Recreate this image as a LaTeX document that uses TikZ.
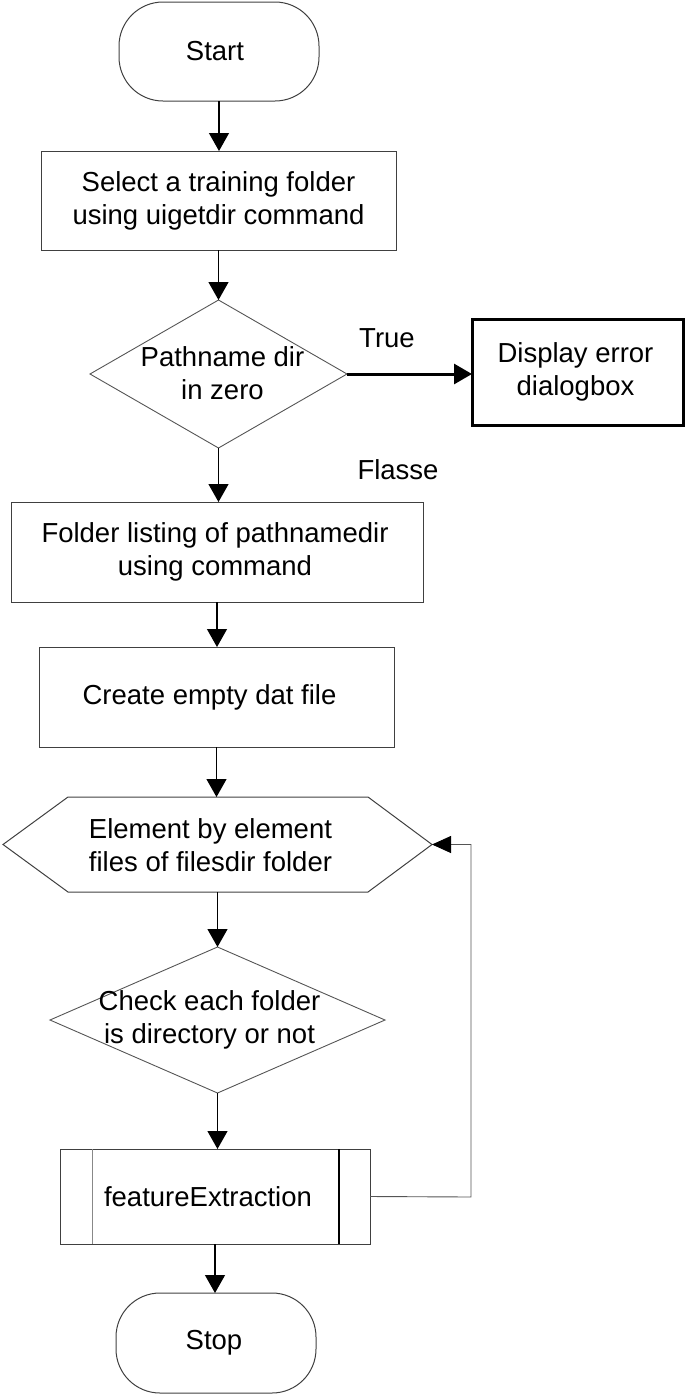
\documentclass[tikz,border=0pt]{standalone}
\usepackage{fontspec}
\setmainfont{Liberation Sans}
\usetikzlibrary{shapes.geometric,arrows.meta}
\definecolor{edgegray}{HTML}{404040}
\definecolor{thingray}{HTML}{555555}
\begin{document}
\begin{tikzpicture}[x=1pt,y=-1pt,
  every node/.style={inner sep=0pt, outer sep=0pt},
  txt/.style={font=\fontsize{27.5}{33}\selectfont, align=center, text=black},
  termbox/.style={draw=edgegray, line width=1pt, rounded corners=44pt},
  procbox/.style={draw=edgegray, line width=1pt, rectangle},
  errbox/.style={draw=black, line width=3pt, rectangle},
  decbox/.style={draw=thingray, line width=0.9pt, diamond},
  flow/.style={draw=black, line width=1.2pt, -{Triangle[length=18pt,width=20pt]}},
  thickflow/.style={draw=black, line width=3pt, -{Triangle[length=18pt,width=20pt]}},
  loopline/.style={draw=thingray, line width=0.9pt, -{Triangle[length=19pt,width=17pt,color=black]}}
]
\useasboundingbox (0,0) rectangle (685,1395);

% nodes
\node[termbox, minimum width=200pt, minimum height=99pt,
  label={[txt,xshift=-4pt]center:Start}] (start) at (219,51.5) {};
\node[procbox, minimum width=355pt, minimum height=99pt,
  label={[txt]center:{Select a training folder\\using uigetdir command}}] (b1) at (218.5,200.5) {};
\node[decbox, minimum width=257pt, minimum height=148pt,
  label={[txt,xshift=4pt,yshift=1pt]center:{Pathname dir\\in zero}}] (d1) at (218.5,374) {};
\node[errbox, minimum width=211pt, minimum height=106pt,
  label={[txt,xshift=-2pt]center:{Display error\\dialogbox}}] (b2) at (577.5,372) {};
\node[txt] (true) at (387,338) {True};
\node[txt] (false) at (398,470) {Flasse};
\node[procbox, minimum width=412pt, minimum height=100pt,
  label={[txt,xshift=-2pt]center:{Folder listing of pathnamedir\\using command}}] (b3) at (217,552) {};
\node[procbox, minimum width=355pt, minimum height=100pt,
  label={[txt,xshift=-7pt]center:{Create empty dat file}}] (b4) at (216.5,697) {};
\node[minimum width=429pt, minimum height=95pt,
  label={[txt,xshift=-7pt,yshift=-1pt]center:{Element by element\\files of filesdir folder}}] (hex) at (217.5,844.5) {};
\draw[draw=edgegray, line width=1pt]
  (hex.west) -- ([xshift=65pt]hex.north west) -- ([xshift=-64pt]hex.north east)
  -- (hex.east) -- ([xshift=-64pt]hex.south east) -- ([xshift=65pt]hex.south west) -- cycle;
\node[decbox, minimum width=335pt, minimum height=146pt,
  label={[txt,xshift=-8pt,yshift=0pt]center:{Check each folder\\is directory or not}}] (d2) at (217.5,1020) {};
\node[procbox, minimum width=310pt, minimum height=95pt,
  label={[txt,xshift=-7pt]center:featureExtraction}] (fe) at (215,1196.5) {};
\draw[draw=thingray!70, line width=0.9pt] ([xshift=32pt]fe.north west) -- ([xshift=32pt]fe.south west);
\draw[draw=black, line width=1.2pt] ([xshift=-31pt]fe.north east) -- ([xshift=-31pt]fe.south east);
\node[termbox, minimum width=200pt, minimum height=100pt,
  label={[txt,xshift=-2pt]center:Stop}] (stop) at (216,1343) {};
\coordinate (lp) at (471,1197);

% connectors
\draw[flow] (start.south) -- (start.south |- b1.north);
\draw[flow] (b1.south) -- (b1.south |- d1.north);
\draw[thickflow] (d1.east) -- (d1.east -| b2.west);
\draw[flow] (d1.south) -- (d1.south |- b3.north);
\draw[flow] (b3.south) -- (b3.south |- b4.north);
\draw[flow] (b4.south) -- (b4.south |- hex.north);
\draw[flow] (hex.south) -- (hex.south |- d2.north);
\draw[flow] (d2.south) -- (d2.south |- fe.north);
\draw[flow] (fe.south) -- (fe.south |- stop.north);
\draw[loopline] (fe.east) -- (lp) |- (hex.east);
\end{tikzpicture}
\end{document}
